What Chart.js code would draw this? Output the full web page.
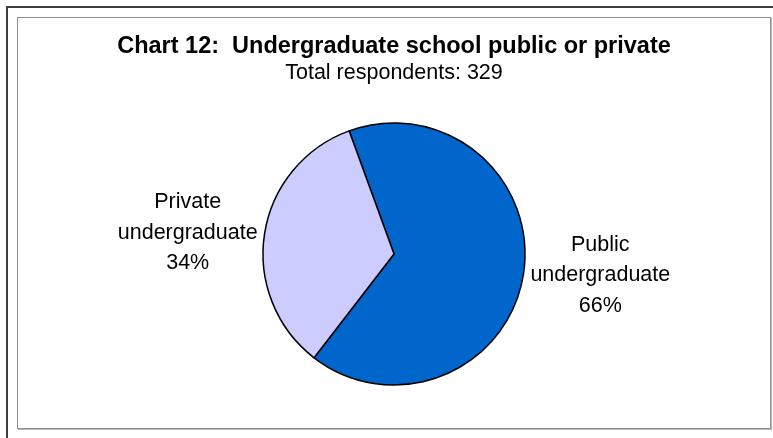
<!DOCTYPE html>
<html>
<head>
<meta charset="utf-8">
<title>Chart 12</title>
<script src="https://cdn.jsdelivr.net/npm/chart.js@4/dist/chart.umd.min.js"></script>
<style>
  html, body { margin: 0; padding: 0; background: #fff; }
  body { width: 773px; height: 438px; position: relative; overflow: hidden; }
  .outer { position: absolute; left: 6px; top: 6px; width: 900px; height: 600px;
           border-left: 2px solid #3c3c3c; border-top: 2px solid #3c3c3c; }
  .inner { position: absolute; left: 17px; top: 17px; width: 752px; height: 410px;
           border: 1px solid #8f8f8f; box-shadow: 1px 1px 0 #b8b8b8; }
  #pie { position: absolute; left: 0; top: 0; }
</style>
</head>
<body>
<div class="outer"></div>
<div class="inner"></div>
<canvas id="pie" width="773" height="438"></canvas>
<script>
const categories = ['Public undergraduate', 'Private undergraduate'];
const shares = [66, 34];
const sliceColors = ['#0066CC', '#CCCCFF'];
const titleText = 'Chart 12:  Undergraduate school public or private';
const subtitleText = 'Total respondents: 329';

const FONT = '"Liberation Sans", Arial, sans-serif';

// category name + percentage drawn just outside each slice
const outsideLabels = {
  id: 'outsideLabels',
  afterDatasetsDraw(chart) {
    const ctx = chart.ctx;
    const meta = chart.getDatasetMeta(0);
    const gap = 7;
    const lineH = 30.5;
    ctx.save();
    ctx.font = '21.5px ' + FONT;
    ctx.fillStyle = '#000';
    ctx.textBaseline = 'middle';
    ctx.textAlign = 'center';
    meta.data.forEach((arc, i) => {
      const p = arc.getProps(['x', 'y', 'startAngle', 'endAngle', 'outerRadius'], true);
      const mid = (p.startAngle + p.endAngle) / 2;
      const ax = p.x + Math.cos(mid) * (p.outerRadius + gap);
      const ay = p.y + Math.sin(mid) * (p.outerRadius + gap);
      const lines = categories[i].split(' ').concat([shares[i] + '%']);
      const w = Math.max(...lines.map(l => ctx.measureText(l).width));
      const cx = Math.cos(mid) >= 0 ? ax + w / 2 : ax - w / 2;
      const top = ay - (lines.length - 1) * lineH / 2;
      lines.forEach((l, k) => ctx.fillText(l, cx, top + k * lineH));
    });
    ctx.restore();
  }
};

new Chart(document.getElementById('pie'), {
  type: 'pie',
  data: {
    labels: categories,
    datasets: [{
      data: shares,
      backgroundColor: sliceColors,
      borderColor: '#000',
      borderWidth: 1.5
    }]
  },
  options: {
    responsive: false,
    animation: false,
    events: [],
    rotation: -20,
    radius: 131,
    layout: { padding: { top: 0, left: 15, right: 0, bottom: 20 } },
    plugins: {
      legend: { display: false },
      tooltip: { enabled: false },
      title: {
        display: true,
        text: titleText,
        color: '#000',
        font: { family: FONT, size: 23.5, weight: 'bold', lineHeight: 1.2 },
        padding: { top: 32, bottom: 0 }
      },
      subtitle: {
        display: true,
        text: subtitleText,
        color: '#000',
        font: { family: FONT, size: 21.5, lineHeight: 1.2 },
        padding: { top: 0, bottom: 4 }
      }
    }
  },
  plugins: [outsideLabels]
});
</script>
</body>
</html>
